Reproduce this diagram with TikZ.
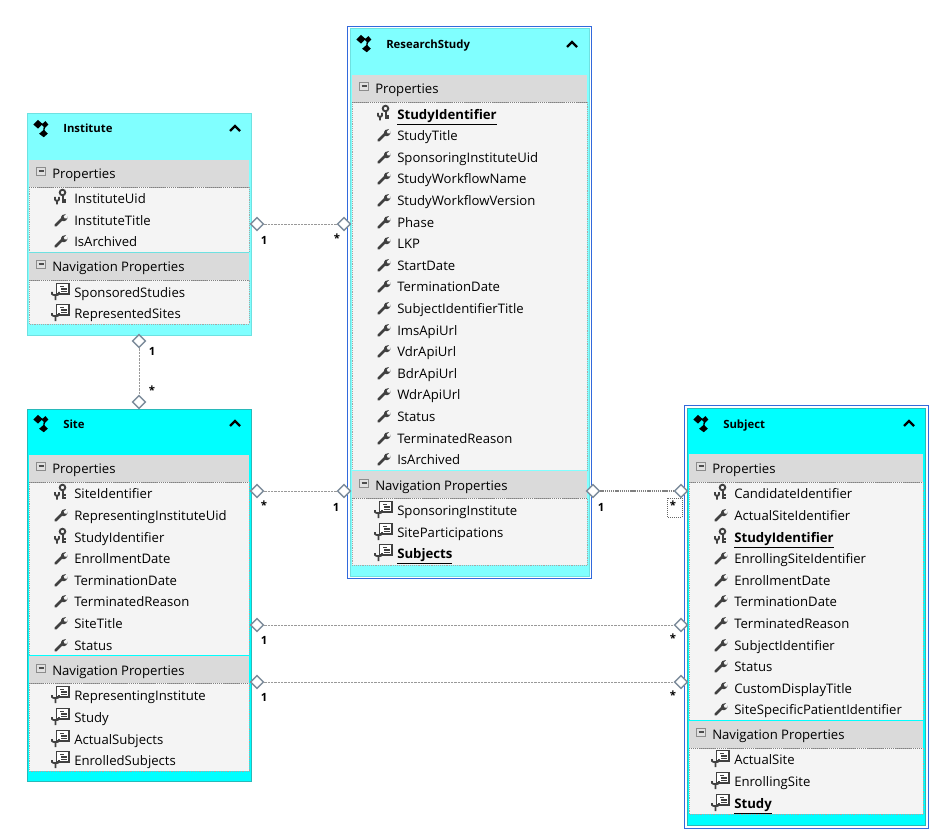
\documentclass[tikz,border=0pt]{standalone}
\usepackage{fontspec}
\setmainfont{Open Sans}
\usetikzlibrary{shapes.geometric}
\definecolor{liteCyan}{RGB}{128,255,255}
\definecolor{liteEdge}{RGB}{110,225,225}
\definecolor{fullCyan}{RGB}{0,255,255}
\definecolor{fullEdge}{RGB}{40,185,185}
\definecolor{selBlue}{RGB}{50,105,220}
\definecolor{bandGrey}{RGB}{218,218,218}
\definecolor{bodyGrey}{RGB}{244,244,244}
\definecolor{iconGrey}{RGB}{64,64,64}
\definecolor{diaGrey}{RGB}{125,140,155}
\tikzset{
  rowtext/.style={anchor=west,inner sep=0pt,text height=10pt,text depth=2pt,font=\fontsize{9.85}{11}\selectfont,text=black},
  boldtext/.style={rowtext,font=\fontsize{9.9}{11}\selectfont\bfseries},
  headtext/.style={anchor=west,inner sep=0pt,text height=8.2pt,text depth=2pt,font=\fontsize{8.5}{10}\selectfont\bfseries},
  multtext/.style={inner sep=0pt,font=\fontsize{8.5}{10}\selectfont\bfseries},
  band/.style={fill=bandGrey,draw=none},
  body/.style={fill=bodyGrey,draw=black!35,densely dotted,line width=0.4pt},
  rule/.style={draw=black!50,densely dotted,line width=0.5pt},
  end/.style={diamond,draw=diaGrey,fill=white,line width=1pt,inner sep=0pt,minimum width=10pt,minimum height=10pt},
  assoc/.style={draw=black!40,dash pattern=on 1.8pt off 0.7pt,line width=0.6pt},
  assocfocus/.style={draw=black!50,dash pattern=on 1pt off 0.6pt,line width=2.2pt},
  pics/wrench/.style={code={\begin{scope}[yscale=-1]
    \draw [iconGrey,line width=2.1pt,line cap=round] (-5.5,5.5) -- (1.5,-1.5);
    \fill [iconGrey] (0,-1) .. controls (-0.5,-4.5) and (2.5,-6.5) .. (5,-6) -- (2.5,-3.5) -- (3.5,-1.5) -- (6,-1.5) -- (6.5,-3.5) .. controls (7,-0.5) and (4,2) .. (1.5,1) -- cycle;
  \end{scope}}},
  pics/keyicon/.style={code={\begin{scope}[yscale=-1]
    \draw [iconGrey,line width=1.4pt] (1.5,-5.5) circle (2.8);
    \draw [iconGrey,line width=1.5pt] (1.5,-2.5) -- (1.5,5.5) (1.5,2) -- (4.5,2) (1.5,4.5) -- (4.5,4.5);
    \draw [iconGrey,line width=1.4pt] (-6,-1) -- (-6,1.5) .. controls (-6,3) and (-2,3) .. (-2,1.5) -- (-2,-1) (-4,2.5) -- (-4,6.5);
  \end{scope}}},
  pics/navicon/.style={code={\begin{scope}[yscale=-1]
    \draw [iconGrey,fill=white,line width=0.8pt] (-4.5,-8.5) rectangle (8,2);
    \draw [iconGrey,line width=0.9pt] (-1,-5.5) -- (2.5,-5.5) (0,-3) -- (5.5,-3) (0,-0.5) -- (5.5,-0.5);
    \draw [iconGrey,line width=1.3pt] (-9,0) -- (-9,2) .. controls (-9,3.5) and (-2,3.5) .. (-2,2) -- (-2,0) (-5.5,3) -- (-5.5,8);
  \end{scope}}},
  pics/entityicon/.style={code={\begin{scope}[yscale=-1,scale=1.15]
    \fill [black] (-4,-3) -- (0,-7) -- (4,-3.5) -- (0,0.5) -- cycle;
    \fill [black] (3,-3) -- (6.5,-6) -- (9,-3) -- (6,0) -- cycle;
    \fill [black] (1,5) -- (5,1.5) -- (8.5,5) -- (5,8) -- cycle;
    \draw [black,line width=1pt] (5.5,-1) -- (5,3);
  \end{scope}}},
  pics/chevron/.style={code={\begin{scope}[yscale=-1]
    \draw [black,line width=1.8pt] (-5,3) -- (0,-2) -- (5,3);
  \end{scope}}},
  pics/minusbox/.style={code={
    \draw [black!45,fill=black!12,line width=0.5pt] (-4.5,-4) rectangle (4.5,4);
    \draw [black!70,line width=1.1pt] (-2.5,0) -- (2.5,0);
  }},
}
\begin{document}
\begin{tikzpicture}[x=0.75pt,y=0.75pt,yscale=-1,xscale=1]
\useasboundingbox (0,0) rectangle (936,838);

%Shape: Institute box
\draw [fill=liteCyan,draw=liteEdge,line width=0.75pt] (27,114) rectangle (251,335);
\path [body] (29,187) rectangle (249,252);
\path [body] (29,280) rectangle (249,324);
\path [band] (29,160) rectangle (249,187);
\path [band] (29,253) rectangle (249,280);
\draw [rule] (29,187) -- (249,187);
\draw [rule] (29,280) -- (249,280);
\draw [liteEdge,line width=0.7pt] (29,252.5) -- (249,252.5);
%Shape: Site box
\draw [fill=fullCyan,draw=fullEdge,line width=0.75pt] (27,409) rectangle (251,781);
\path [body] (29,482) rectangle (249,655);
\path [body] (29,683) rectangle (249,771);
\path [band] (29,455) rectangle (249,482);
\path [band] (29,656) rectangle (249,683);
\draw [rule] (29,482) -- (249,482);
\draw [rule] (29,683) -- (249,683);
\draw [fullCyan,line width=0.7pt] (29,655.5) -- (249,655.5);
%Shape: ResearchStudy box
\draw [selBlue,line width=0.7pt] (347,26) rectangle (591,578);
\draw [fill=liteCyan,draw=liteEdge,line width=0.75pt] (350,29) rectangle (589,576);
\path [body] (352,102) rectangle (587,470);
\path [body] (352,498) rectangle (587,565);
\path [band] (352,75) rectangle (587,102);
\path [band] (352,471) rectangle (587,498);
\draw [rule] (352,102) -- (587,102);
\draw [rule] (352,498) -- (587,498);
\draw [liteCyan,line width=0.7pt] (352,470.5) -- (587,470.5);
%Shape: Subject box
\draw [selBlue,line width=0.7pt] (684,405) rectangle (928,828);
\draw [fill=fullCyan,draw=fullEdge,line width=0.75pt] (687,408) rectangle (925,825);
\path [body] (689,482) rectangle (923,720);
\path [body] (689,748) rectangle (923,814);
\path [band] (689,454) rectangle (923,482);
\path [band] (689,721) rectangle (923,748);
\draw [rule] (689,482) -- (923,482);
\draw [rule] (689,748) -- (923,748);
\draw [fullCyan,line width=0.7pt] (689,720.5) -- (923,720.5);

%Shape: Diamond ends
\node [end] (instStudyA) at (257,224) {};
\node [end] (instStudyB) at (344,224) {};
\node [end] (instSiteA) at (139,341) {};
\node [end] (instSiteB) at (139,402) {};
\node [end] (siteStudyA) at (257,491) {};
\node [end] (siteStudyB) at (344,491) {};
\node [end] (studySubjA) at (593,491) {};
\node [end] (studySubjB) at (681,491) {};
\node [end] (actualA) at (257,625) {};
\node [end] (actualB) at (681,625) {};
\node [end] (enrolA) at (257,682) {};
\node [end] (enrolB) at (681,682) {};
%Straight Lines
\draw [assoc] (instStudyA) -- (instStudyB);
\draw [assoc] (instSiteA) -- (instSiteB);
\draw [assoc] (siteStudyA) -- (siteStudyB);
\draw [assocfocus] (studySubjA) -- (studySubjB);
\draw [assoc] (actualA) -- (actualB);
\draw [assoc] (enrolA) -- (enrolB);
%Shape: Focus box
\draw [black!60,densely dotted,line width=0.5pt] (667,498) rectangle (682,517);

% Text Node
\draw (264,240) node [multtext] (lblInstOne) {1};
\draw (337,238) node [multtext] (lblInstMany) {*};
\draw (152,351) node [multtext] (lblSiteOne) {1};
\draw (152,390) node [multtext] (lblSiteMany) {*};
\draw (264,505) node [multtext] (lblSiteStudyMany) {*};
\draw (336,507) node [multtext] (lblSiteStudyOne) {1};
\draw (601,507) node [multtext] (lblSubjOne) {1};
\draw (673,505) node [multtext] (lblSubjMany) {*};
\draw (264,640) node [multtext] (lblActualOne) {1};
\draw (673,638) node [multtext] (lblActualMany) {*};
\draw (264,697) node [multtext] (lblEnrolOne) {1};
\draw (673,695) node [multtext] (lblEnrolMany) {*};

% Institute
\pic at (38,128) {entityicon};
\pic at (235,128) {chevron};
\draw (63,128) node [headtext] (instTitle) {Institute};
\pic at (41,171) {minusbox};
\draw (52,173) node [rowtext] (instProps) {Properties};
\pic at (61,198) {keyicon};
\draw (74,198) node [rowtext] (instUid) {InstituteUid};
\pic at (61,220) {wrench};
\draw (74,220) node [rowtext] (instName) {InstituteTitle};
\pic at (61,241) {wrench};
\draw (74,241) node [rowtext] (instArch) {IsArchived};
\pic at (41,264) {minusbox};
\draw (52,266) node [rowtext] (instNav) {Navigation Properties};
\pic at (61,292) {navicon};
\draw (74,292) node [rowtext] (instSpons) {SponsoredStudies};
\pic at (61,313) {navicon};
\draw (74,313) node [rowtext] (instRepr) {RepresentedSites};

% Site
\pic at (38,423) {entityicon};
\pic at (235,423) {chevron};
\draw (63,424) node [headtext] (siteTitle) {Site};
\pic at (41,466) {minusbox};
\draw (52,468) node [rowtext] (siteProps) {Properties};
\pic at (61,493) {keyicon};
\draw (74,493) node [rowtext] (siteIdent) {SiteIdentifier};
\pic at (61,515) {wrench};
\draw (74,515) node [rowtext] (siteRepr) {RepresentingInstituteUid};
\pic at (61,537) {keyicon};
\draw (74,537) node [rowtext] (siteStudy) {StudyIdentifier};
\pic at (61,558) {wrench};
\draw (74,558) node [rowtext] (siteEnrol) {EnrollmentDate};
\pic at (61,580) {wrench};
\draw (74,580) node [rowtext] (siteTerm) {TerminationDate};
\pic at (61,601) {wrench};
\draw (74,601) node [rowtext] (siteReason) {TerminatedReason};
\pic at (61,623) {wrench};
\draw (74,623) node [rowtext] (siteName) {SiteTitle};
\pic at (61,645) {wrench};
\draw (74,645) node [rowtext] (siteStatus) {Status};
\pic at (41,668) {minusbox};
\draw (52,670) node [rowtext] (siteNav) {Navigation Properties};
\pic at (61,695) {navicon};
\draw (74,695) node [rowtext] (siteReprInst) {RepresentingInstitute};
\pic at (61,717) {navicon};
\draw (74,717) node [rowtext] (siteStudyNav) {Study};
\pic at (61,739) {navicon};
\draw (74,739) node [rowtext] (siteActual) {ActualSubjects};
\pic at (61,760) {navicon};
\draw (74,760) node [rowtext] (siteEnrolled) {EnrolledSubjects};

% ResearchStudy
\pic at (361,43) {entityicon};
\pic at (572,44) {chevron};
\draw (386,44) node [headtext] (studyTitle) {ResearchStudy};
\pic at (364,86) {minusbox};
\draw (375,88) node [rowtext] (studyProps) {Properties};
\pic at (384,114) {keyicon};
\draw (397,114) node [boldtext] (studyIdent) {\underline{StudyIdentifier}};
\pic at (384,135) {wrench};
\draw (397,135) node [rowtext] (studyName) {StudyTitle};
\pic at (384,157) {wrench};
\draw (397,157) node [rowtext] (studySpons) {SponsoringInstituteUid};
\pic at (384,178) {wrench};
\draw (397,178) node [rowtext] (studyWfName) {StudyWorkflowName};
\pic at (384,200) {wrench};
\draw (397,200) node [rowtext] (studyWfVer) {StudyWorkflowVersion};
\pic at (384,222) {wrench};
\draw (397,222) node [rowtext] (studyPhase) {Phase};
\pic at (384,243) {wrench};
\draw (397,243) node [rowtext] (studyLkp) {LKP};
\pic at (384,265) {wrench};
\draw (397,265) node [rowtext] (studyStart) {StartDate};
\pic at (384,286) {wrench};
\draw (397,286) node [rowtext] (studyTerm) {TerminationDate};
\pic at (384,308) {wrench};
\draw (397,308) node [rowtext] (studySubjTitle) {SubjectIdentifierTitle};
\pic at (384,330) {wrench};
\draw (397,330) node [rowtext] (studyIms) {ImsApiUrl};
\pic at (384,351) {wrench};
\draw (397,351) node [rowtext] (studyVdr) {VdrApiUrl};
\pic at (384,373) {wrench};
\draw (397,373) node [rowtext] (studyBdr) {BdrApiUrl};
\pic at (384,394) {wrench};
\draw (397,394) node [rowtext] (studyWdr) {WdrApiUrl};
\pic at (384,416) {wrench};
\draw (397,416) node [rowtext] (studyStatus) {Status};
\pic at (384,438) {wrench};
\draw (397,438) node [rowtext] (studyReason) {TerminatedReason};
\pic at (384,459) {wrench};
\draw (397,459) node [rowtext] (studyArch) {IsArchived};
\pic at (364,483) {minusbox};
\draw (375,485) node [rowtext] (studyNav) {Navigation Properties};
\pic at (384,510) {navicon};
\draw (397,510) node [rowtext] (studySponsInst) {SponsoringInstitute};
\pic at (384,532) {navicon};
\draw (397,532) node [rowtext] (studySites) {SiteParticipations};
\pic at (384,553) {navicon};
\draw (397,553) node [boldtext] (studySubjects) {\underline{Subjects}};

% Subject
\pic at (698,423) {entityicon};
\pic at (909,423) {chevron};
\draw (723,424) node [headtext] (subjTitle) {Subject};
\pic at (701,466) {minusbox};
\draw (712,468) node [rowtext] (subjProps) {Properties};
\pic at (721,493) {keyicon};
\draw (734,493) node [rowtext] (subjCand) {CandidateIdentifier};
\pic at (721,515) {wrench};
\draw (734,515) node [rowtext] (subjActual) {ActualSiteIdentifier};
\pic at (721,537) {keyicon};
\draw (734,537) node [boldtext] (subjStudy) {\underline{StudyIdentifier}};
\pic at (721,558) {wrench};
\draw (734,558) node [rowtext] (subjEnrolSite) {EnrollingSiteIdentifier};
\pic at (721,580) {wrench};
\draw (734,580) node [rowtext] (subjEnrol) {EnrollmentDate};
\pic at (721,601) {wrench};
\draw (734,601) node [rowtext] (subjTerm) {TerminationDate};
\pic at (721,623) {wrench};
\draw (734,623) node [rowtext] (subjReason) {TerminatedReason};
\pic at (721,645) {wrench};
\draw (734,645) node [rowtext] (subjIdent) {SubjectIdentifier};
\pic at (721,666) {wrench};
\draw (734,666) node [rowtext] (subjStatus) {Status};
\pic at (721,688) {wrench};
\draw (734,688) node [rowtext] (subjDisplay) {CustomDisplayTitle};
\pic at (721,709) {wrench};
\draw (734,709) node [rowtext] (subjPatient) {SiteSpecificPatientIdentifier};
\pic at (701,732) {minusbox};
\draw (712,734) node [rowtext] (subjNav) {Navigation Properties};
\pic at (721,759) {navicon};
\draw (734,759) node [rowtext] (subjActualSite) {ActualSite};
\pic at (721,781) {navicon};
\draw (734,781) node [rowtext] (subjEnrolling) {EnrollingSite};
\pic at (721,803) {navicon};
\draw (734,803) node [boldtext] (subjStudyNav) {\underline{Study}};
\end{tikzpicture}
\end{document}
